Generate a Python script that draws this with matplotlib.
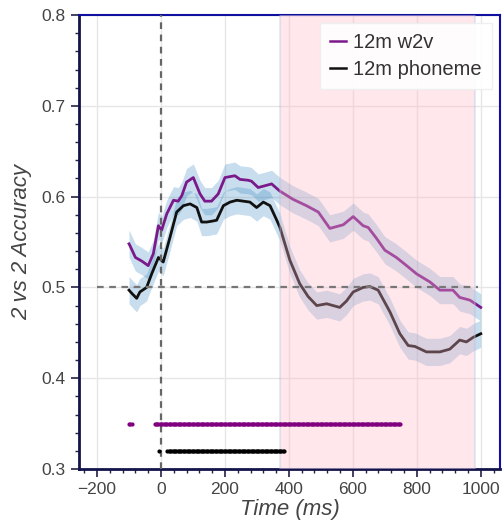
import numpy as np
import matplotlib.pyplot as plt
from matplotlib.ticker import AutoMinorLocator

plt.rcParams['font.family'] = ['Liberation Sans', 'DejaVu Sans']

# 12m w2v curve (time in ms, accuracy)
t_w2v = [-100, -97, -80, -60, -40, -24, -8, 2, 18, 39, 54, 65, 80, 101, 122, 137,
         158, 179, 200, 231, 247, 273, 283, 304, 346, 372, 413, 455, 492, 528,
         570, 601, 632, 648, 674, 700, 736, 768, 799, 841, 872, 913, 934, 966, 1000]
acc_w2v = [0.548, 0.546, 0.533, 0.529, 0.524, 0.537, 0.568, 0.563, 0.581, 0.596,
           0.595, 0.601, 0.616, 0.621, 0.603, 0.595, 0.595, 0.603, 0.621, 0.623,
           0.619, 0.618, 0.617, 0.610, 0.614, 0.606, 0.597, 0.590, 0.583, 0.565,
           0.569, 0.578, 0.568, 0.566, 0.554, 0.541, 0.533, 0.524, 0.515, 0.506,
           0.497, 0.497, 0.489, 0.486, 0.478]

# 12m phoneme curve
t_phon = [-100, -90, -76, -66, -45, -29, -8, 7, 28, 49, 70, 91, 112, 127, 143, 160,
          174, 195, 216, 237, 278, 299, 320, 341, 362, 372, 403, 434, 460, 487,
          518, 559, 580, 601, 632, 653, 679, 716, 747, 773, 794, 830, 872, 903,
          934, 955, 976, 1000]
acc_phon = [0.497, 0.493, 0.488, 0.495, 0.500, 0.515, 0.533, 0.528, 0.555, 0.583,
            0.590, 0.592, 0.588, 0.572, 0.572, 0.573, 0.574, 0.590, 0.594, 0.596,
            0.594, 0.588, 0.594, 0.590, 0.574, 0.566, 0.530, 0.504, 0.490, 0.480,
            0.482, 0.478, 0.485, 0.495, 0.500, 0.501, 0.497, 0.473, 0.449, 0.436,
            0.435, 0.429, 0.429, 0.432, 0.442, 0.440, 0.445, 0.449]

ci_w2v = 0.015
ci_phon = 0.015

# significant time windows (start, end) in ms
sig_w2v = [(-100, -90), (-20, 750)]
sig_phon = [(-5, -5), (20, 385)]
sig_step = 4

span = (372, 981)

fig = plt.figure(figsize=(5.04, 5.27), dpi=100)
ax = fig.add_axes([0.157, 0.110, 0.835, 0.8615])

ax.fill_between(t_w2v, np.array(acc_w2v) - ci_w2v, np.array(acc_w2v) + ci_w2v,
                color='#3a87c0', alpha=0.28, lw=0, zorder=2)
ax.fill_between(t_phon, np.array(acc_phon) - ci_phon, np.array(acc_phon) + ci_phon,
                color='#3a87c0', alpha=0.28, lw=0, zorder=2)
ax.plot(t_w2v, acc_w2v, color='#7a1a8a', lw=2, label='12m w2v', zorder=3)
ax.plot(t_phon, acc_phon, color='#111111', lw=2, label='12m phoneme', zorder=3)

ax.axvspan(span[0], span[1], facecolor='#ffb6c6', alpha=0.32,
           edgecolor='#a9c4e0', lw=1.5, zorder=4)

ax.axhline(0.5, xmin=(-200 + 256) / 1316, xmax=(990 + 256) / 1316,
           color='#777777', ls=(0, (3, 2.5)), lw=1.6, zorder=5)
ax.axvline(0, color='#666666', ls=(0, (3, 2.5)), lw=1.6, zorder=5)

for s, e in sig_w2v:
    tt = np.arange(s, e + 1, sig_step)
    ax.scatter(tt, np.full(len(tt), 0.35), s=9, color='#800080', lw=0, zorder=6)
for s, e in sig_phon:
    tt = np.arange(s, e + 1, sig_step)
    ax.scatter(tt, np.full(len(tt), 0.32), s=9, color='black', lw=0, zorder=6)

ax.set_xlim(-256, 1060)
ax.set_ylim(0.3, 0.8)
ax.set_xticks([-200, 0, 200, 400, 600, 800, 1000])
ax.set_yticks([0.3, 0.4, 0.5, 0.6, 0.7, 0.8])
ax.xaxis.set_minor_locator(AutoMinorLocator(5))
ax.yaxis.set_minor_locator(AutoMinorLocator(5))
ax.grid(True, which='major', color='#e6e6e6', lw=1, zorder=0)
ax.set_axisbelow(True)

ax.tick_params(which='major', length=6, width=1.2, color='#222244',
               labelsize=12.5, labelcolor='#444444')
ax.tick_params(which='minor', length=3, width=1, color='#222244')

for side in ['top', 'right']:
    ax.spines[side].set_color('#1010a0')
    ax.spines[side].set_linewidth(1.5)
for side in ['left', 'bottom']:
    ax.spines[side].set_color('#14144a')
    ax.spines[side].set_linewidth(2)

ax.set_xlabel('Time (ms)', fontsize=16, style='italic', color='#444444', labelpad=1)
ax.set_ylabel('2 vs 2 Accuracy', fontsize=16, style='italic', color='#444444', labelpad=7)

leg = ax.legend(loc='upper right', fontsize=14.5, handlelength=0.8, handletextpad=0.35,
                fancybox=False, framealpha=0.9, edgecolor='#eeeeee',
                borderpad=0.5, labelspacing=0.4, borderaxespad=0,
                bbox_to_anchor=(0.981, 0.982))
for line in leg.get_lines():
    line.set_linewidth(1.8)
for txt in leg.get_texts():
    txt.set_color('#333333')

fig.savefig('out.png', dpi=100)
